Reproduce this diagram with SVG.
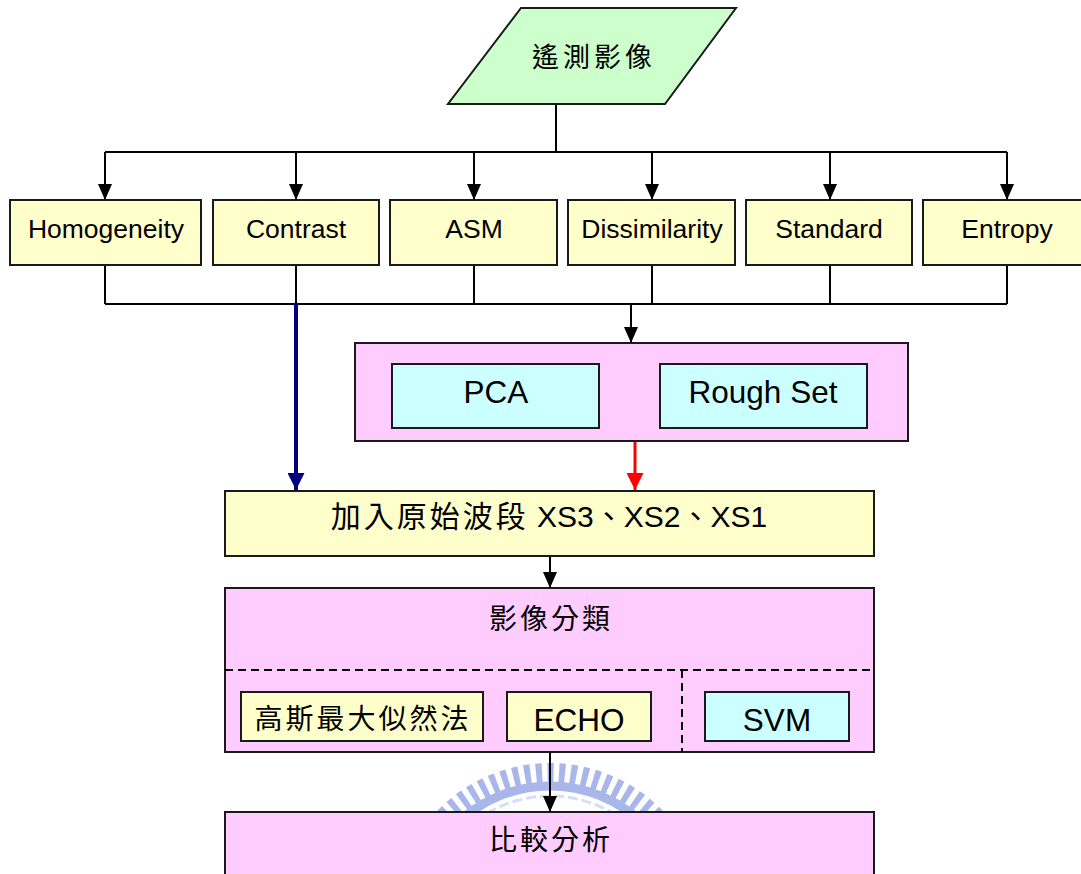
<svg xmlns="http://www.w3.org/2000/svg" width="1081" height="874" viewBox="0 0 1081 874">
  <style>
    .box { stroke: #1a1a1a; stroke-width: 2; }
    .yellow { fill: #FFFFCC; }
    .pink { fill: #FFCCFF; }
    .cyan { fill: #CCFFFF; }
    .green { fill: #CCFFCC; }
    .line { fill: none; stroke: #000; stroke-width: 2; }
    .dash { fill: none; stroke: #000; stroke-width: 2; stroke-dasharray: 8 5; }
    .lat { font-family: "Liberation Sans", Arial, sans-serif; fill: #000; text-anchor: middle; }
    .cjk { font-family: "Noto Sans CJK TC", "Noto Sans CJK SC", sans-serif; fill: #000; text-anchor: middle; }
    .feat { font-size: 26.5px; }
    .big { font-size: 31.5px; }
  </style>
  <defs>
    <marker id="ah" markerUnits="userSpaceOnUse" markerWidth="16" markerHeight="14" refX="16" refY="7" orient="auto">
      <path d="M0,0 L16,7 L0,14 Z" fill="#000"/>
    </marker>
    <marker id="ahBlue" markerUnits="userSpaceOnUse" markerWidth="17" markerHeight="17" refX="17" refY="8.5" orient="auto">
      <path d="M0,0 L17,8.5 L0,17 Z" fill="#000080"/>
    </marker>
    <marker id="ahRed" markerUnits="userSpaceOnUse" markerWidth="17" markerHeight="17" refX="17" refY="8.5" orient="auto">
      <path d="M0,0 L17,8.5 L0,17 Z" fill="#FF0000"/>
    </marker>
    <clipPath id="wmClip">
      <rect x="300" y="752" width="500" height="60"/>
    </clipPath>
  </defs>

  <rect width="1081" height="874" fill="#FFFFFF"/>

  <!-- faint emblem behind the lower connector -->
  <g id="emblem" clip-path="url(#wmClip)" fill="none">
    <circle cx="550" cy="920" r="147" stroke="#A9B6EA" stroke-width="20" stroke-dasharray="6 5.5"/>
    <circle cx="550" cy="920" r="134" stroke="#A9B6EA" stroke-width="9"/>
    <circle cx="550" cy="920" r="124" stroke="#D6DDF6" stroke-width="3" stroke-dasharray="10 4"/>
  </g>

  <g id="connectors">
    <path class="line" d="M556,104 V152"/>
    <path class="line" d="M105,152 H1007"/>
    <path class="line" d="M105,152 V200" marker-end="url(#ah)"/>
    <path class="line" d="M296,152 V200" marker-end="url(#ah)"/>
    <path class="line" d="M474,152 V200" marker-end="url(#ah)"/>
    <path class="line" d="M652,152 V200" marker-end="url(#ah)"/>
    <path class="line" d="M830,152 V200" marker-end="url(#ah)"/>
    <path class="line" d="M1007,152 V200" marker-end="url(#ah)"/>

    <path class="line" d="M105,265 V304 M296,265 V304 M474,265 V304 M652,265 V304 M830,265 V304 M1007,265 V304"/>
    <path class="line" d="M105,304 H1007"/>
    <path class="line" d="M631,304 V343" marker-end="url(#ah)"/>
    <path fill="none" stroke="#000080" stroke-width="4" d="M296,304 V490" marker-end="url(#ahBlue)"/>
    <path fill="none" stroke="#FF0000" stroke-width="3" d="M635,441 V490" marker-end="url(#ahRed)"/>
    <path class="line" d="M550,556 V588" marker-end="url(#ah)"/>
    <path class="line" d="M550,752 V812" marker-end="url(#ah)"/>
  </g>

  <g id="source">
    <polygon class="box green" points="521,8 736,8 665,104 448,104"/>
    <text class="cjk" x="594" y="67" font-size="27" letter-spacing="4">遙測影像</text>
  </g>

  <g id="homogeneity">
    <rect class="box yellow" x="10" y="200" width="191" height="65"/>
    <text class="lat feat" x="106" y="238">Homogeneity</text>
  </g>
  <g id="contrast">
    <rect class="box yellow" x="213" y="200" width="166" height="65"/>
    <text class="lat feat" x="296" y="238">Contrast</text>
  </g>
  <g id="asm">
    <rect class="box yellow" x="390" y="200" width="167" height="65"/>
    <text class="lat feat" x="474" y="238">ASM</text>
  </g>
  <g id="dissimilarity">
    <rect class="box yellow" x="568" y="200" width="167" height="65"/>
    <text class="lat feat" x="652" y="238">Dissimilarity</text>
  </g>
  <g id="standard">
    <rect class="box yellow" x="746" y="200" width="166" height="65"/>
    <text class="lat feat" x="829" y="238">Standard</text>
  </g>
  <g id="entropy">
    <rect class="box yellow" x="923" y="200" width="170" height="65"/>
    <text class="lat feat" x="1007" y="238">Entropy</text>
  </g>

  <g id="reduction">
    <rect class="box pink" x="355" y="343" width="553" height="98"/>
    <g id="pca">
      <rect class="box cyan" x="392" y="364" width="207" height="64"/>
      <text class="lat big" x="496" y="403">PCA</text>
    </g>
    <g id="rough-set">
      <rect class="box cyan" x="660" y="364" width="207" height="64"/>
      <text class="lat big" x="763" y="403">Rough Set</text>
    </g>
  </g>

  <g id="bands">
    <rect class="box yellow" x="225" y="491" width="649" height="65"/>
    <text x="549" y="527" font-size="30" text-anchor="middle" fill="#000"><tspan font-family="Noto Sans CJK TC, Noto Sans CJK SC, sans-serif" letter-spacing="3">加入原始波段</tspan><tspan font-family="Liberation Sans, Arial, sans-serif"> XS3</tspan><tspan font-family="Noto Sans CJK TC, sans-serif">、</tspan><tspan font-family="Liberation Sans, Arial, sans-serif">XS2</tspan><tspan font-family="Noto Sans CJK TC, sans-serif">、</tspan><tspan font-family="Liberation Sans, Arial, sans-serif">XS1</tspan></text>
  </g>

  <g id="classification">
    <rect class="box pink" x="225" y="588" width="649" height="164"/>
    <text class="cjk" x="551" y="629" font-size="28" letter-spacing="3">影像分類</text>
    <path class="dash" d="M225,670 H874"/>
    <path class="dash" d="M682,670 V752"/>
    <g id="mlc">
      <rect class="box yellow" x="241" y="692" width="242" height="49"/>
      <text class="cjk" x="363" y="729" font-size="28" letter-spacing="3">高斯最大似然法</text>
    </g>
    <g id="echo">
      <rect class="box yellow" x="507" y="692" width="144" height="49"/>
      <text class="lat big" x="579" y="731">ECHO</text>
    </g>
    <g id="svm">
      <rect class="box cyan" x="705" y="692" width="144" height="49"/>
      <text class="lat big" x="777" y="731">SVM</text>
    </g>
  </g>

  <g id="comparison">
    <rect class="box pink" x="225" y="812" width="649" height="80"/>
    <text class="cjk" x="551" y="850" font-size="28" letter-spacing="3">比較分析</text>
  </g>
</svg>
